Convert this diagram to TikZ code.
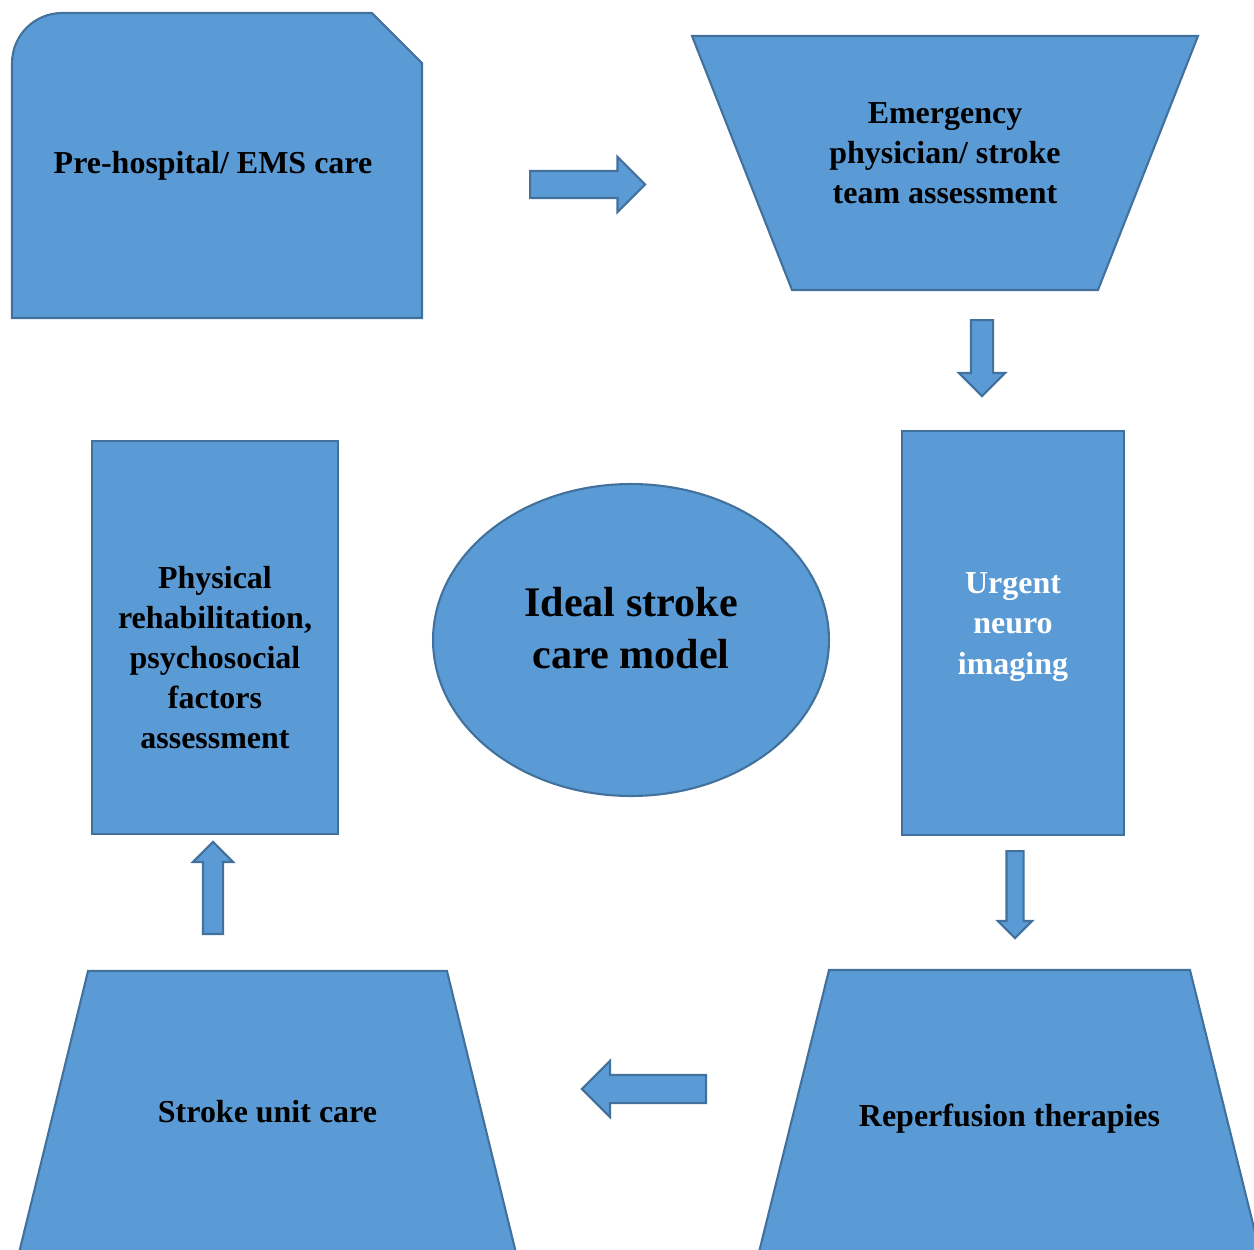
\documentclass[tikz,border=0pt]{standalone}
\usepackage{fontspec}
\setmainfont{Liberation Serif}
\usetikzlibrary{shapes.geometric,shapes.arrows}

\definecolor{boxfill}{HTML}{5B9BD5}
\definecolor{boxline}{HTML}{41719C}

\tikzset{
  txt/.style={align=center,font=\bfseries\fontsize{18.2}{22.8}\selectfont},
  box/.style={draw=boxline,fill=boxfill,line width=1.2pt,outer sep=0pt},
  frame/.style={outer sep=0pt,inner sep=0pt},
  blockarrow/.style={single arrow,draw=boxline,fill=boxfill,line width=1.2pt,
    inner xsep=0pt,anchor=tail,minimum height=#1}
}

\begin{document}
\begin{tikzpicture}[x=0.02cm,y=-0.02cm]
	\useasboundingbox (0,0) rectangle (1254,1250);
	% boxes
	\node[frame,minimum width=8.2cm,minimum height=6.1cm] (pre) at (217,165.5) {};
	\draw[box] (pre.south west) -- ([yshift=-1cm]pre.north west)
		arc[start angle=180,end angle=90,radius=1cm] -- ([xshift=-1cm]pre.north east)
		-- ([yshift=-1cm]pre.north east) -- (pre.south east) -- cycle;
	\node[txt] (pre-txt) at ([xshift=-0.08cm]pre.center) {Pre-hospital/ EMS care};
	\node[frame,minimum width=10.12cm,minimum height=5.08cm] (emerg) at (945,163) {};
	\draw[box] (emerg.north west) -- (emerg.north east) -- ([xshift=-2cm]emerg.south east)
		-- ([xshift=2cm]emerg.south west) -- cycle;
	\node[txt] (emerg-txt) at ([yshift=0.2cm]emerg.center) {Emergency\\physician/ stroke\\team assessment};
	\node[box,minimum width=4.44cm,minimum height=8.08cm] (urgent) at (1013,633) {};
	\node[txt,text=white] (urgent-txt) at ([yshift=0.12cm]urgent.center) {Urgent\\neuro\\imaging};
	\node[frame,minimum width=10.1cm,minimum height=5.8cm] (reperf) at (1009.5,1115) {};
	\draw[box] ([xshift=1.44cm]reperf.north west) -- ([xshift=-1.44cm]reperf.north east)
		-- (reperf.south east) -- (reperf.south west) -- cycle;
	\node[txt] (reperf-txt) at ([yshift=-0.08cm]reperf.center) {Reperfusion therapies};
	\node[frame,minimum width=10.02cm,minimum height=5.8cm] (unit) at (267.5,1116) {};
	\draw[box] ([xshift=1.42cm]unit.north west) -- ([xshift=-1.42cm]unit.north east)
		-- (unit.south east) -- (unit.south west) -- cycle;
	\node[txt] (unit-txt) at ([yshift=0.08cm]unit.center) {Stroke unit care};
	\node[box,minimum width=4.92cm,minimum height=7.86cm] (rehab) at (215,637.5) {};
	\node[txt] (rehab-txt) at ([yshift=-0.4cm]rehab.center)
		{Physical\\rehabilitation,\\psychosocial\\factors\\assessment};
	\node[box,ellipse,inner sep=0pt,minimum width=7.92cm,minimum height=6.24cm] (ideal) at (631,640) {};
	\node[txt,font=\bfseries\fontsize{24}{30}\selectfont] (ideal-txt) at ([yshift=0.24cm]ideal.center)
		{Ideal stroke\\care model};
	% arrows
	\node[blockarrow=2.3cm,inner ysep=0.25cm,single arrow head extend=0.28cm] (a1) at (529,184.5) {};
	\node[blockarrow=1.52cm,inner ysep=0.2cm,single arrow head extend=0.24cm,rotate=-90] (a2) at (982,319) {};
	\node[blockarrow=1.74cm,inner ysep=0.15cm,single arrow head extend=0.17cm,rotate=-90] (a3) at (1015,850) {};
	\node[blockarrow=2.48cm,inner ysep=0.26cm,single arrow head extend=0.28cm,rotate=180] (a4) at (707,1089) {};
	\node[blockarrow=1.84cm,inner ysep=0.18cm,single arrow head extend=0.2cm,rotate=90] (a5) at (213,935) {};
\end{tikzpicture}
\end{document}
